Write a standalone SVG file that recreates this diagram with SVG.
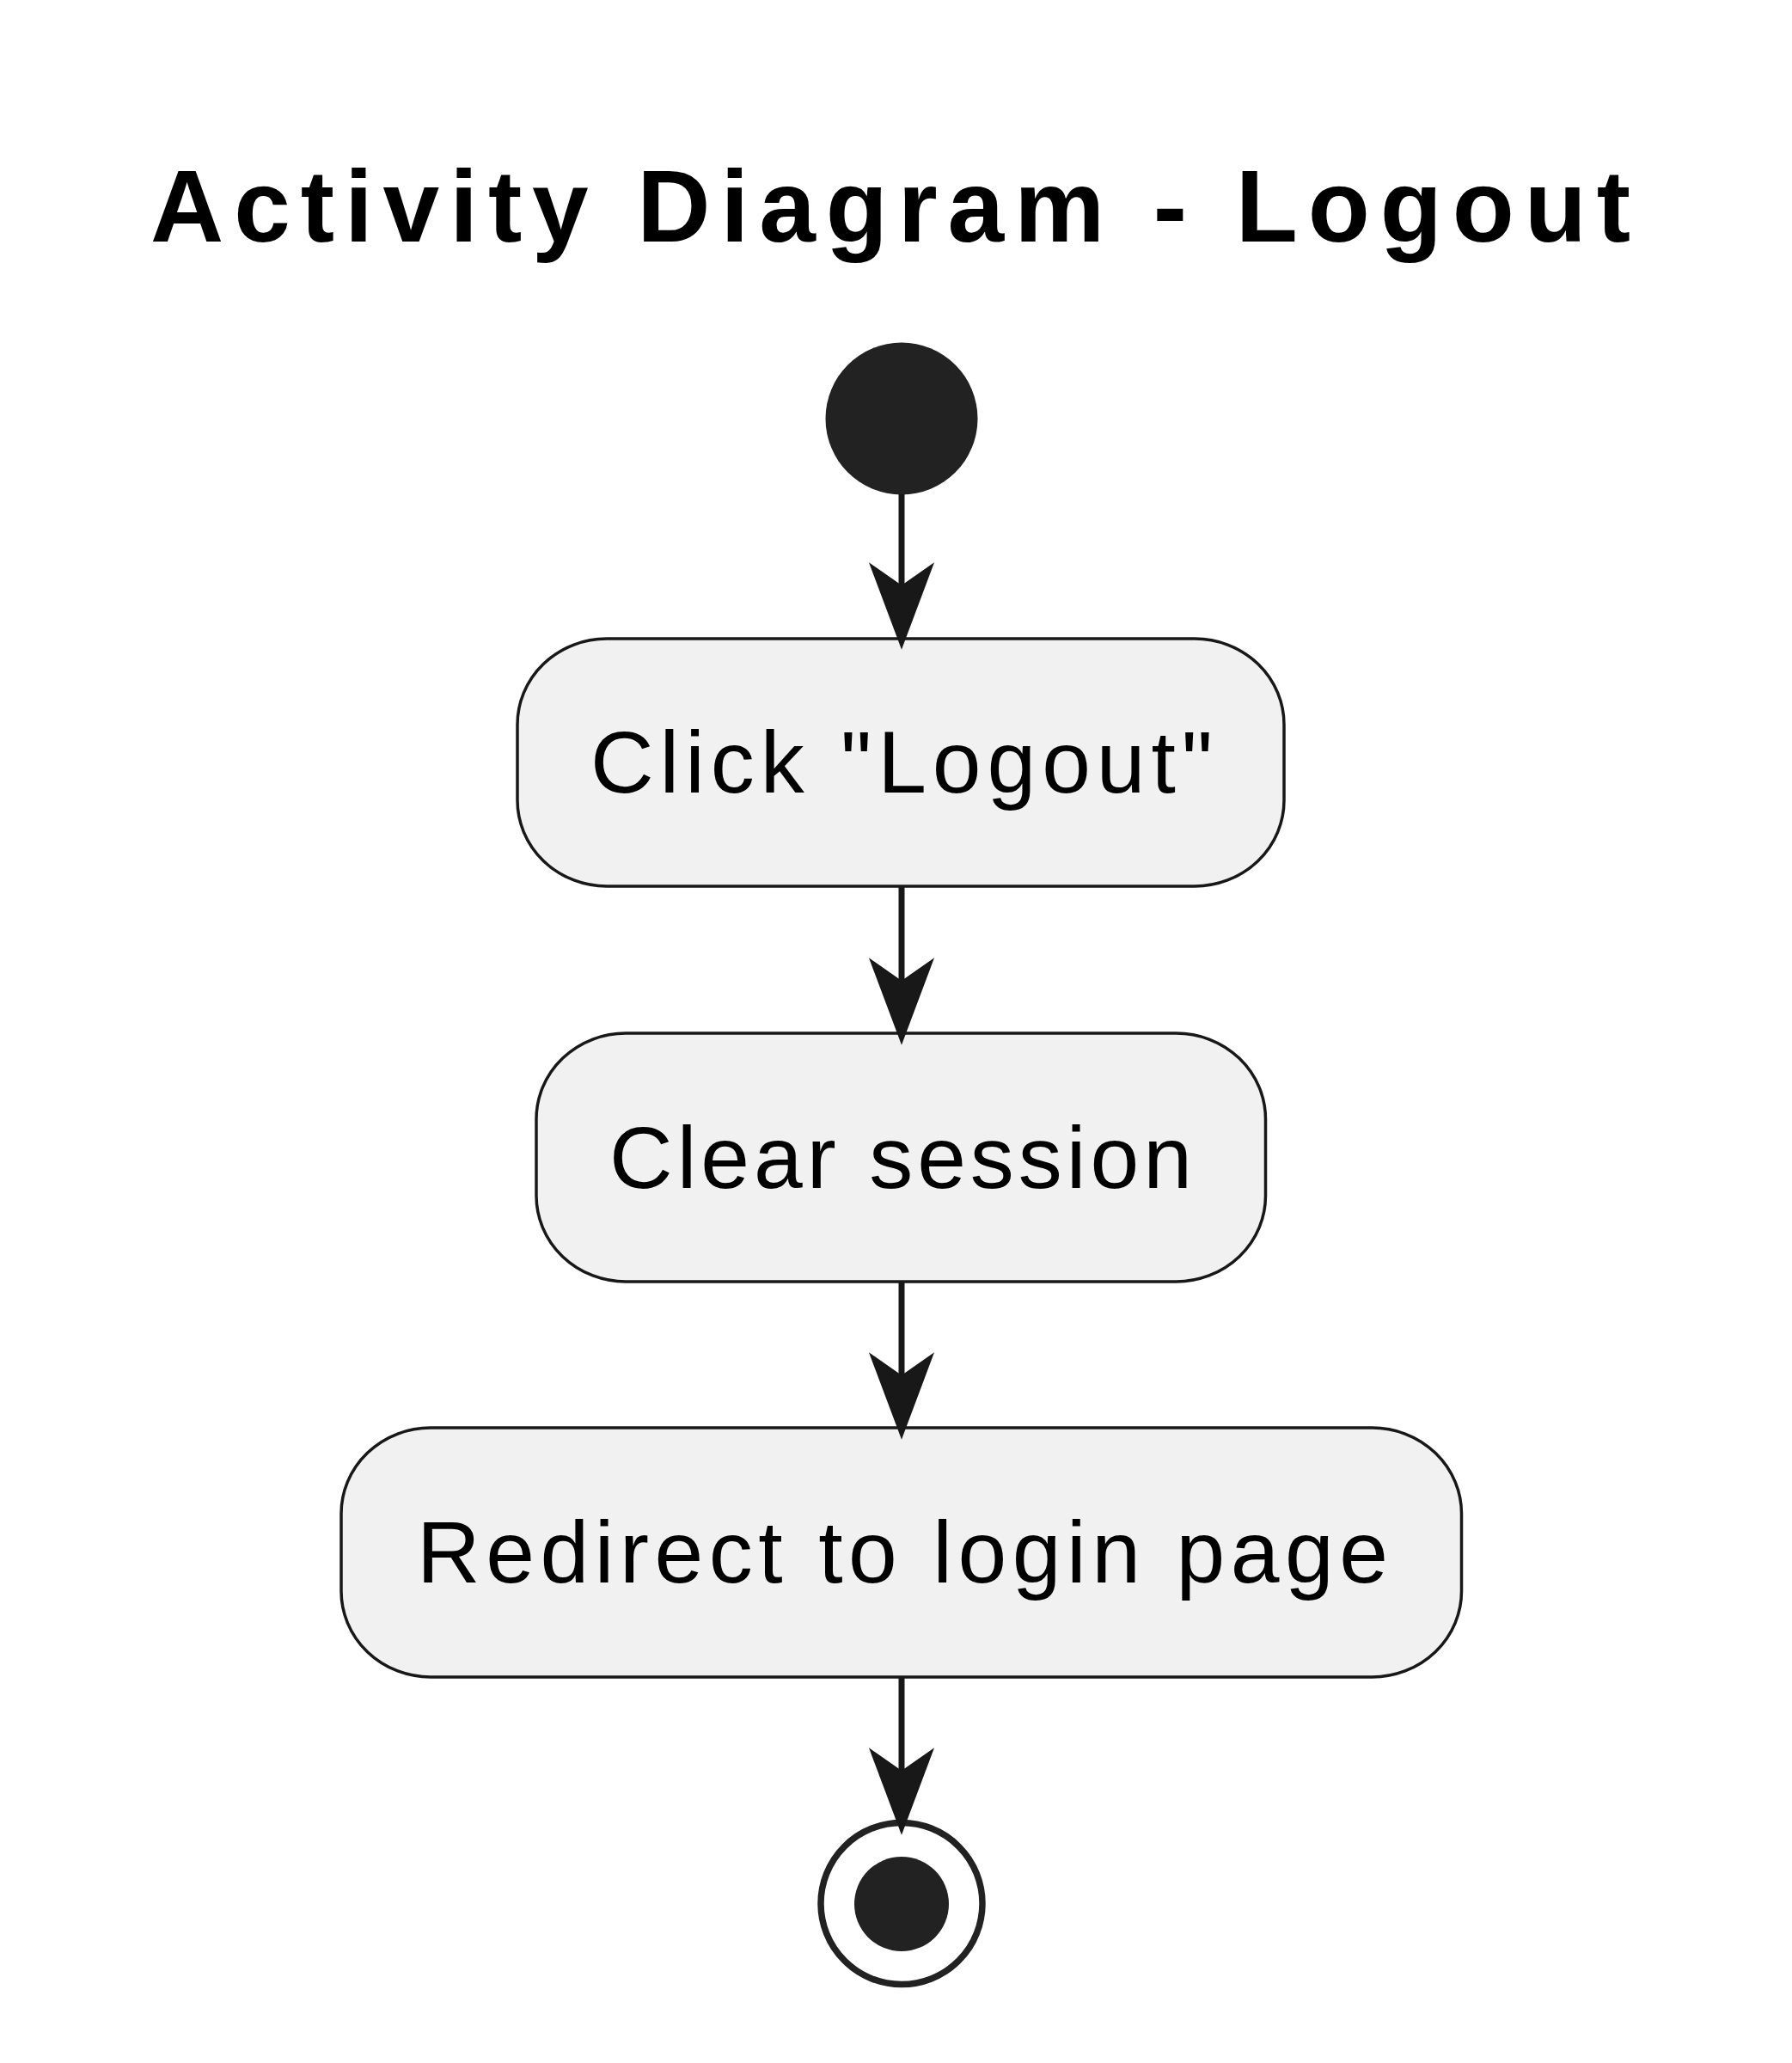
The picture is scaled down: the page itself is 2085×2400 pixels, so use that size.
<svg xmlns="http://www.w3.org/2000/svg" width="2085" height="2400" viewBox="0 0 2085 2400">
<style>
.title{font-family:"Liberation Sans",Arial,sans-serif;font-weight:bold;font-size:118px;fill:#000}
.lbl{font-family:"Liberation Sans",Arial,sans-serif;font-size:102px;fill:#000;text-anchor:middle}
.act{fill:#F1F1F1;stroke:#181818;stroke-width:3.5}
.edge{stroke:#181818;stroke-width:7;fill:none}
.head{fill:#181818;stroke:#181818;stroke-width:2;stroke-linejoin:miter}
</style>
<rect width="2085" height="2400" fill="#FFFFFF"/>
<text class="title" x="175" y="281" textLength="1722" lengthAdjust="spacing">Activity Diagram - Logout</text>
<g id="start"><circle cx="1049" cy="487" r="88.5" fill="#222222"/></g>
<g id="click-logout">
<rect class="act" x="602" y="743" width="892" height="288" rx="104" ry="100"/>
<text class="lbl" x="1049" y="922" textLength="724" lengthAdjust="spacing">Click "Logout"</text>
</g>
<g id="clear-session">
<rect class="act" x="624" y="1202" width="848.5" height="289" rx="104" ry="100"/>
<text class="lbl" x="1048" y="1382" textLength="678" lengthAdjust="spacing">Clear session</text>
</g>
<g id="redirect">
<rect class="act" x="397" y="1661" width="1303.5" height="290" rx="104" ry="100"/>
<text class="lbl" x="1050" y="1841" textLength="1130" lengthAdjust="spacing">Redirect to login page</text>
</g>
<g id="end">
<circle cx="1049" cy="2214.5" r="94" fill="none" stroke="#222222" stroke-width="7.5"/>
<circle cx="1049" cy="2215" r="55" fill="#222222"/>
</g>
<g id="connectors">
<line class="edge" x1="1049" y1="575" x2="1049" y2="690"/>
<polygon class="head" points="1049,753 1013,657 1049,682 1085,657"/>
<line class="edge" x1="1049" y1="1031" x2="1049" y2="1150"/>
<polygon class="head" points="1049,1213 1013,1117 1049,1142 1085,1117"/>
<line class="edge" x1="1049" y1="1491" x2="1049" y2="1610"/>
<polygon class="head" points="1049,1672 1013,1576 1049,1601 1085,1576"/>
<line class="edge" x1="1049" y1="1951" x2="1049" y2="2068"/>
<polygon class="head" points="1049,2132 1013,2036 1049,2061 1085,2036"/>
</g>
</svg>
